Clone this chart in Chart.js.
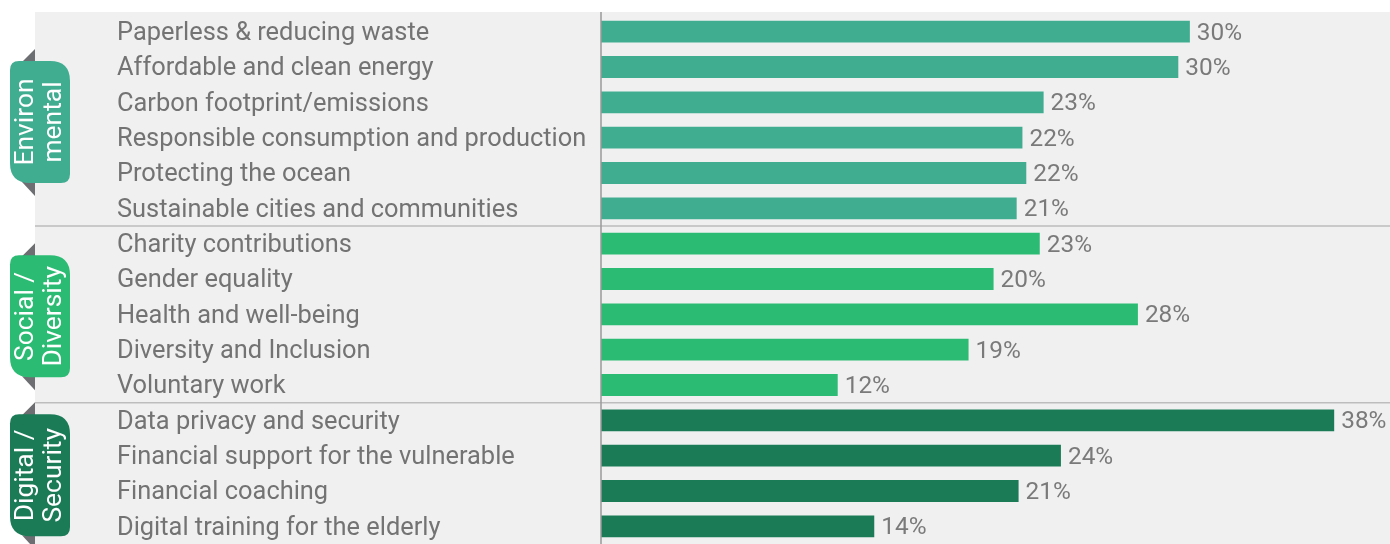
<!DOCTYPE html>
<html><head><meta charset="utf-8">
<script src="https://cdn.jsdelivr.net/npm/chart.js@4/dist/chart.umd.min.js"></script>
<style>html,body{margin:0;padding:0;background:#fff;}#wrap{width:1390px;height:544px;position:relative;}</style>
</head><body><div id="wrap"><canvas id="c" width="1390" height="544"></canvas></div>
<script>
const categories = [
  'Paperless & reducing waste',
  'Affordable and clean energy',
  'Carbon footprint/emissions',
  'Responsible consumption and production',
  'Protecting the ocean',
  'Sustainable cities and communities',
  'Charity contributions',
  'Gender equality',
  'Health and well-being',
  'Diversity and Inclusion',
  'Voluntary work',
  'Data privacy and security',
  'Financial support for the vulnerable',
  'Financial coaching',
  'Digital training for the elderly'
];
const values = [30.6, 30.0, 23.0, 21.9, 22.1, 21.6, 22.8, 20.4, 27.9, 19.1, 12.3, 38.1, 23.9, 21.7, 14.2];
const valueLabels = ['30%','30%','23%','22%','22%','21%','23%','20%','28%','19%','12%','38%','24%','21%','14%'];
const groupNames = [['Environ','mental'], ['Social /','Diversity'], ['Digital /','Security']];
const groupSizes = [6, 5, 4];
const groupColors = ['#40ad91', '#2bbb73', '#1b7b57'];

const FAMILY = 'Roboto, "Open Sans", sans-serif';
const mctx = document.createElement('canvas').getContext('2d');
mctx.font = '100px ' + FAMILY;
const FS = Math.round(100 * 469 / mctx.measureText('Responsible consumption and production').width * 10) / 10;

const barColors = [];
groupSizes.forEach((n, g) => { for (let i = 0; i < n; i++) barColors.push(groupColors[g]); });

const LEFT_BG = 35;

const decor = {
  id: 'decor',
  beforeDraw(chart) {
    const ctx = chart.ctx;
    ctx.save();
    ctx.fillStyle = '#ffffff';
    ctx.fillRect(0, 0, chart.width, chart.height);
    ctx.fillStyle = '#f0f0f0';
    ctx.fillRect(LEFT_BG, 12, chart.width - LEFT_BG, chart.height - 12);
    ctx.restore();
  },
  afterDatasetsDraw(chart) {
    const ctx = chart.ctx;
    const ys = chart.scales.y;
    const area = chart.chartArea;
    ctx.save();
    ctx.strokeStyle = '#bdbdbd';
    ctx.lineWidth = 1.5;
    let idx = 0;
    for (let g = 0; g < groupSizes.length - 1; g++) {
      idx += groupSizes[g];
      const y = (ys.getPixelForValue(idx - 1) + ys.getPixelForValue(idx)) / 2;
      ctx.beginPath(); ctx.moveTo(LEFT_BG, y); ctx.lineTo(chart.width, y); ctx.stroke();
    }
    ctx.strokeStyle = '#9a9a9a';
    ctx.lineWidth = 1.5;
    ctx.beginPath(); ctx.moveTo(area.left, 12); ctx.lineTo(area.left, chart.height); ctx.stroke();
    const meta = chart.getDatasetMeta(0);
    ctx.fillStyle = '#7a7a7a';
    ctx.font = (FS - 1) + 'px ' + FAMILY;
    ctx.textBaseline = 'middle';
    ctx.textAlign = 'left';
    meta.data.forEach((el, i) => { ctx.fillText(valueLabels[i], el.x + 7, el.y + 2); });
    ctx.restore();
  },
  afterDraw(chart) {
    const ctx = chart.ctx;
    const ys = chart.scales.y;
    const step = ys.getPixelForValue(1) - ys.getPixelForValue(0);
    ctx.save();
    let start = 0;
    groupSizes.forEach((n, g) => {
      const top = ys.getPixelForValue(start) - step / 2;
      const bot = ys.getPixelForValue(start + n - 1) + step / 2;
      const cy = (top + bot) / 2 + 2;
      const h = 122, x0 = 10, w = 60;
      const py0 = cy - h / 2, py1 = cy + h / 2;
      ctx.fillStyle = '#6d6e71';
      ctx.beginPath(); ctx.moveTo(22, py0 + 1); ctx.lineTo(35, py0 + 1); ctx.lineTo(35, py0 - 12); ctx.closePath(); ctx.fill();
      ctx.beginPath(); ctx.moveTo(22, py1 - 1); ctx.lineTo(35, py1 - 1); ctx.lineTo(35, py1 + 13); ctx.closePath(); ctx.fill();
      const rTL = 9, rTR = 20, rBR = 9, rBL = 20;
      ctx.fillStyle = groupColors[g];
      ctx.beginPath();
      ctx.moveTo(x0 + rTL, py0);
      ctx.lineTo(x0 + w - rTR, py0);
      ctx.quadraticCurveTo(x0 + w, py0, x0 + w, py0 + rTR);
      ctx.lineTo(x0 + w, py1 - rBR);
      ctx.quadraticCurveTo(x0 + w, py1, x0 + w - rBR, py1);
      ctx.lineTo(x0 + rBL, py1);
      ctx.quadraticCurveTo(x0, py1, x0, py1 - rBL);
      ctx.lineTo(x0, py0 + rTL);
      ctx.quadraticCurveTo(x0, py0, x0 + rTL, py0);
      ctx.closePath();
      ctx.fill();
      ctx.translate(x0 + w / 2, cy);
      ctx.rotate(-Math.PI / 2);
      ctx.fillStyle = '#ffffff';
      ctx.font = (FS + 1) + 'px ' + FAMILY;
      ctx.textAlign = 'center';
      ctx.textBaseline = 'middle';
      ctx.fillText(groupNames[g][0], 0, -14);
      ctx.fillText(groupNames[g][1], 0, 14);
      ctx.setTransform(1, 0, 0, 1, 0, 0);
      start += n;
    });
    ctx.restore();
  }
};

new Chart(document.getElementById('c'), {
  type: 'bar',
  data: {
    labels: categories,
    datasets: [{
      data: values,
      backgroundColor: barColors,
      borderWidth: 0,
      barPercentage: 0.62,
      categoryPercentage: 1
    }]
  },
  options: {
    indexAxis: 'y',
    responsive: false,
    animation: false,
    devicePixelRatio: 1,
    layout: { padding: { left: 117, top: 14, right: 0, bottom: 0 } },
    plugins: { legend: { display: false }, tooltip: { enabled: false } },
    scales: {
      x: { display: false, min: 0, max: 41 },
      y: {
        grid: { display: false },
        border: { display: false },
        ticks: {
          crossAlign: 'far',
          padding: 0,
          labelOffset: 2,
          autoSkip: false,
          color: '#737373',
          font: { family: FAMILY, size: FS }
        },
        afterFit(scale) {
          scale.width = 601 - 117;
          scale.paddingTop = 0;
          scale.paddingBottom = 0;
        }
      }
    }
  },
  plugins: [decor]
});
</script>
</body></html>
